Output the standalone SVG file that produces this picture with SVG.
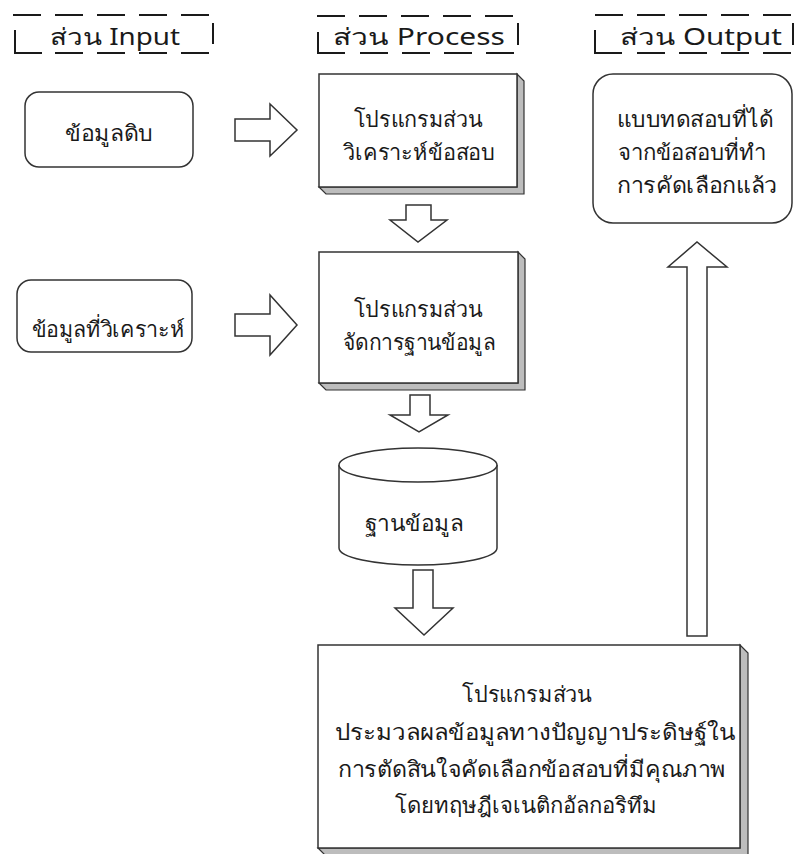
<svg xmlns="http://www.w3.org/2000/svg" width="796" height="854" viewBox="0 0 796 854">
<style>
  text { font-family: "Noto Sans", "Liberation Sans", sans-serif; fill: #1a1a1a; }
  .t { font-size: 22px; text-anchor: middle; }
  .hd { font-size: 23px; }
  .dash { stroke: #1a1a1a; stroke-width: 2; stroke-dasharray: 28 14; fill: none; }
  .solid { stroke: #1a1a1a; stroke-width: 2; fill: none; }
  .box { fill: #ffffff; stroke: #333333; stroke-width: 1.5; }
  .bevel { fill: #bdbdbd; stroke: #333333; stroke-width: 1.2; }
  .arrow { fill: #ffffff; stroke: #333333; stroke-width: 1.5; stroke-linejoin: miter; }
</style>

<g id="header-input">
  <line class="dash" x1="13" y1="15" x2="210" y2="15"/>
  <polyline class="solid" points="15,30 15,53 42,53"/>
  <line class="dash" x1="55" y1="53" x2="210" y2="53"/>
  <line class="solid" x1="213" y1="23" x2="213" y2="44"/>
  <text class="hd" x="50" y="45" textLength="130" lengthAdjust="spacingAndGlyphs">ส่วน Input</text>
</g>

<g id="header-process">
  <line class="dash" x1="317" y1="16" x2="514" y2="16"/>
  <polyline class="solid" points="318,32 318,53 345,53"/>
  <line class="dash" x1="360" y1="53" x2="514" y2="53"/>
  <line class="solid" x1="518" y1="23" x2="518" y2="45"/>
  <text class="hd" x="333" y="45" textLength="172" lengthAdjust="spacingAndGlyphs">ส่วน Process</text>
</g>

<g id="header-output">
  <line class="dash" x1="595" y1="15" x2="792" y2="15"/>
  <polyline class="solid" points="595,30 595,53 622,53"/>
  <line class="dash" x1="637" y1="53" x2="792" y2="53"/>
  <line class="solid" x1="793" y1="23" x2="793" y2="45"/>
  <text class="hd" x="620" y="45" textLength="162" lengthAdjust="spacingAndGlyphs">ส่วน Output</text>
</g>

<g id="connectors">
  <polygon class="arrow" points="235,119 270,119 270,104 297,130 270,156 270,141 235,141"/>
  <polygon class="arrow" points="235,314 270,314 270,295 297,325 270,355 270,336 235,336"/>
  <polygon class="arrow" points="406,205 431,205 431,220 447,220 418,242 390,220 406,220"/>
  <polygon class="arrow" points="410,395 430,395 430,415 448,415 419,432 390,415 410,415"/>
  <polygon class="arrow" points="413,570 433,570 433,608 453,608 424,635 395,608 413,608"/>
  <polygon class="arrow" points="687,636 707,636 707,267 727,267 697,242 668,267 687,267"/>
</g>

<g id="raw-data">
  <rect class="box" x="25" y="92" width="168" height="75" rx="14"/>
  <text class="t" x="109" y="141" textLength="88" lengthAdjust="spacingAndGlyphs">ข้อมูลดิบ</text>
</g>

<g id="analyzed-data">
  <rect class="box" x="17" y="280" width="175" height="72" rx="14"/>
  <text class="t" x="108" y="337" textLength="153" lengthAdjust="spacingAndGlyphs">ข้อมูลที่วิเคราะห์</text>
</g>

<g id="analysis-program">
  <polygon class="bevel" points="517,74 524,81 524,194 326,194 319,187 517,187"/>
  <rect class="box" x="319" y="74" width="198" height="113"/>
  <text class="t" x="418" y="127" textLength="129" lengthAdjust="spacingAndGlyphs">โปรแกรมส่วน</text>
  <text class="t" x="419" y="160" textLength="152" lengthAdjust="spacingAndGlyphs">วิเคราะห์ข้อสอบ</text>
</g>

<g id="db-program">
  <polygon class="bevel" points="518,252 525,259 525,390 326,390 319,383 518,383"/>
  <rect class="box" x="319" y="252" width="199" height="131"/>
  <text class="t" x="418" y="317" textLength="129" lengthAdjust="spacingAndGlyphs">โปรแกรมส่วน</text>
  <text class="t" x="419" y="350" textLength="152" lengthAdjust="spacingAndGlyphs">จัดการฐานข้อมูล</text>
</g>

<g id="database">
  <path class="box" d="M339,465 L339,548 A79,17 0 0 0 497,548 L497,465"/>
  <ellipse class="box" cx="418" cy="465" rx="79" ry="17"/>
  <text class="t" x="414" y="531" textLength="98" lengthAdjust="spacingAndGlyphs">ฐานข้อมูล</text>
</g>

<g id="ai-program">
  <polygon class="bevel" points="740,645 748,653 748,856 326,856 318,848 740,848"/>
  <rect class="box" x="318" y="645" width="422" height="203"/>
  <text class="t" x="527" y="702" textLength="130" lengthAdjust="spacingAndGlyphs">โปรแกรมส่วน</text>
  <text class="t" x="535" y="740" textLength="401" lengthAdjust="spacingAndGlyphs">ประมวลผลข้อมูลทางปัญญาประดิษฐ์ใน</text>
  <text class="t" x="532" y="777" textLength="388" lengthAdjust="spacingAndGlyphs">การตัดสินใจคัดเลือกข้อสอบที่มีคุณภาพ</text>
  <text class="t" x="526" y="813" textLength="263" lengthAdjust="spacingAndGlyphs">โดยทฤษฎีเจเนติกอัลกอริทึม</text>
</g>

<g id="output-tests">
  <rect class="box" x="593" y="74" width="199" height="149" rx="20"/>
  <text class="t" x="695" y="127" textLength="156" lengthAdjust="spacingAndGlyphs">แบบทดสอบที่ได้</text>
  <text class="t" x="692" y="160" textLength="149" lengthAdjust="spacingAndGlyphs">จากข้อสอบที่ทำ</text>
  <text class="t" x="697" y="193" textLength="160" lengthAdjust="spacingAndGlyphs">การคัดเลือกแล้ว</text>
</g>
</svg>
